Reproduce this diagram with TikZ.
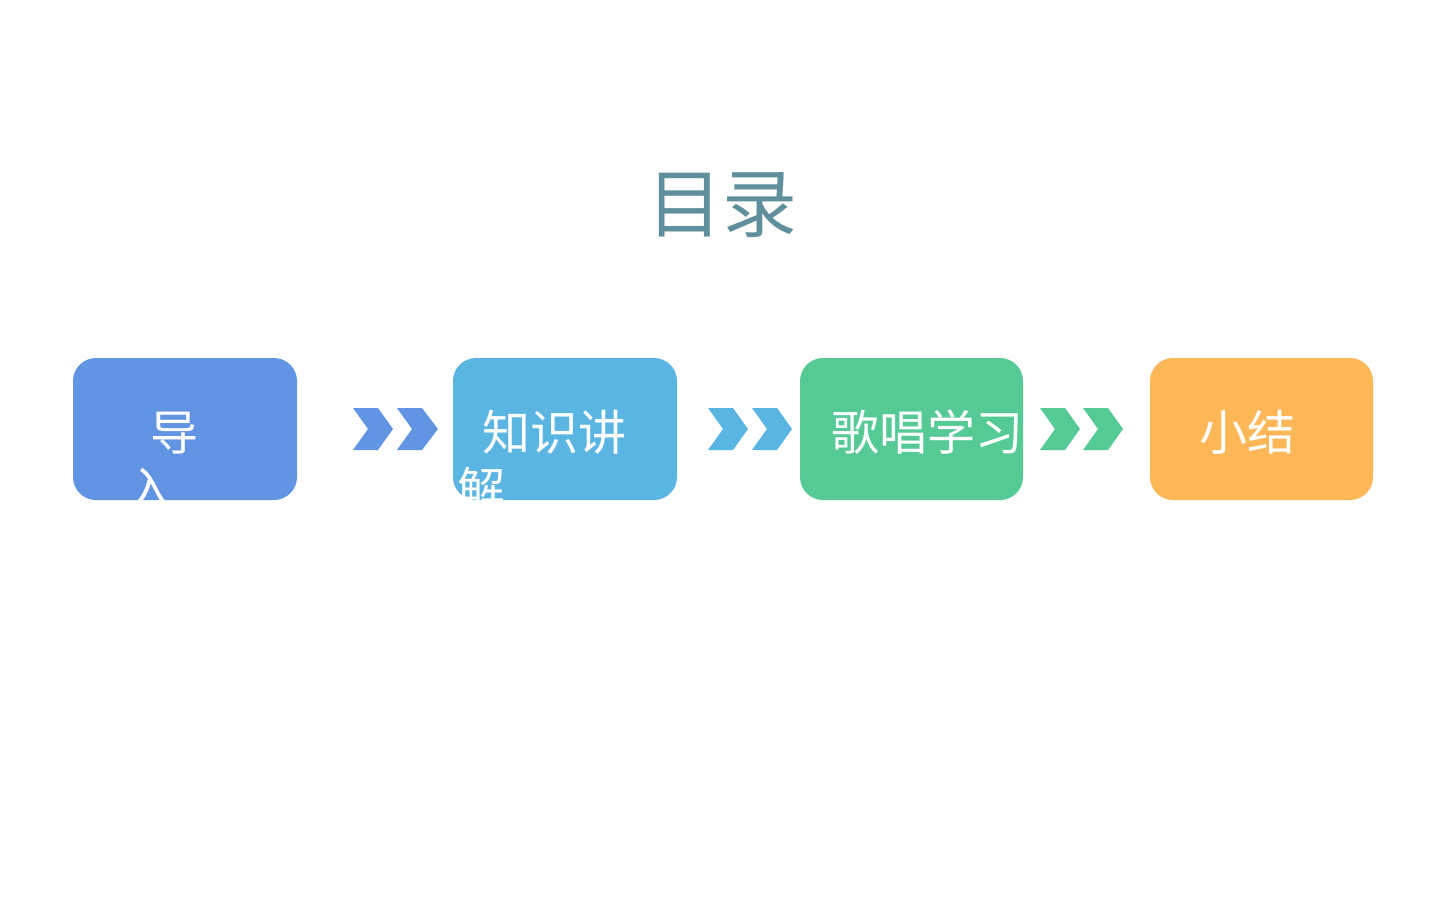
\documentclass[tikz,border=0pt]{standalone}
\usepackage{fontspec}
\newfontfamily\cjk{Noto Sans CJK SC}
\definecolor{cblue}{HTML}{6195E4}
\definecolor{clight}{HTML}{5AB5E3}
\definecolor{cgreen}{HTML}{55CA94}
\definecolor{corange}{HTML}{FDB756}
\definecolor{ctitle}{HTML}{5F8F9C}
\tikzset{
  boxstyle/.style={rounded corners=23pt},
  boxtext/.style={text=white, font=\cjk\fontsize{48}{57}\selectfont, inner sep=0pt, anchor=base west}
}
\begin{document}
\begin{tikzpicture}[x=1pt,y=-1pt]
\useasboundingbox (0,0) rectangle (1440,900);
\fill[white] (0,0) rectangle (1440,900);
\node[font=\cjk\fontsize{75}{80}\selectfont, text=ctitle, inner sep=0pt] (title) at (722,205) {目录};
% boxes
\fill[cblue, boxstyle] (73,358) rectangle (297,500);
\fill[clight, boxstyle] (453,358) rectangle (677,500);
\fill[cgreen, boxstyle] (800,358) rectangle (1023,500);
\fill[corange, boxstyle] (1150,358) rectangle (1373,500);
% chevrons
\fill[cblue] (353,408) -- (378,408) -- (393,429) -- (378,450) -- (353,450) -- (368,429) -- cycle;
\fill[cblue] (397,408) -- (422,408) -- (438,429) -- (422,450) -- (397,450) -- (412,429) -- cycle;
\fill[clight] (708,408) -- (733,408) -- (748,429) -- (733,450) -- (708,450) -- (723,429) -- cycle;
\fill[clight] (752,408) -- (777,408) -- (792,429) -- (777,450) -- (752,450) -- (767,429) -- cycle;
\fill[cgreen] (1040,408) -- (1065,408) -- (1080,429) -- (1065,450) -- (1040,450) -- (1055,429) -- cycle;
\fill[cgreen] (1083,408) -- (1108,408) -- (1123,429) -- (1108,450) -- (1083,450) -- (1098,429) -- cycle;
% texts
\begin{scope}
\clip (0,0) rectangle (1440,500);
\node[boxtext] (t1a) at (150,450) {导};
\node[boxtext] (t1b) at (126,507) {入};
\node[boxtext] (t2a) at (482,450) {知识讲};
\node[boxtext] (t2b) at (457,507) {解};
\node[boxtext] (t3) at (831,450) {歌唱学习};
\node[boxtext] (t4) at (1199,450) {小结};
\end{scope}
\end{tikzpicture}
\end{document}
